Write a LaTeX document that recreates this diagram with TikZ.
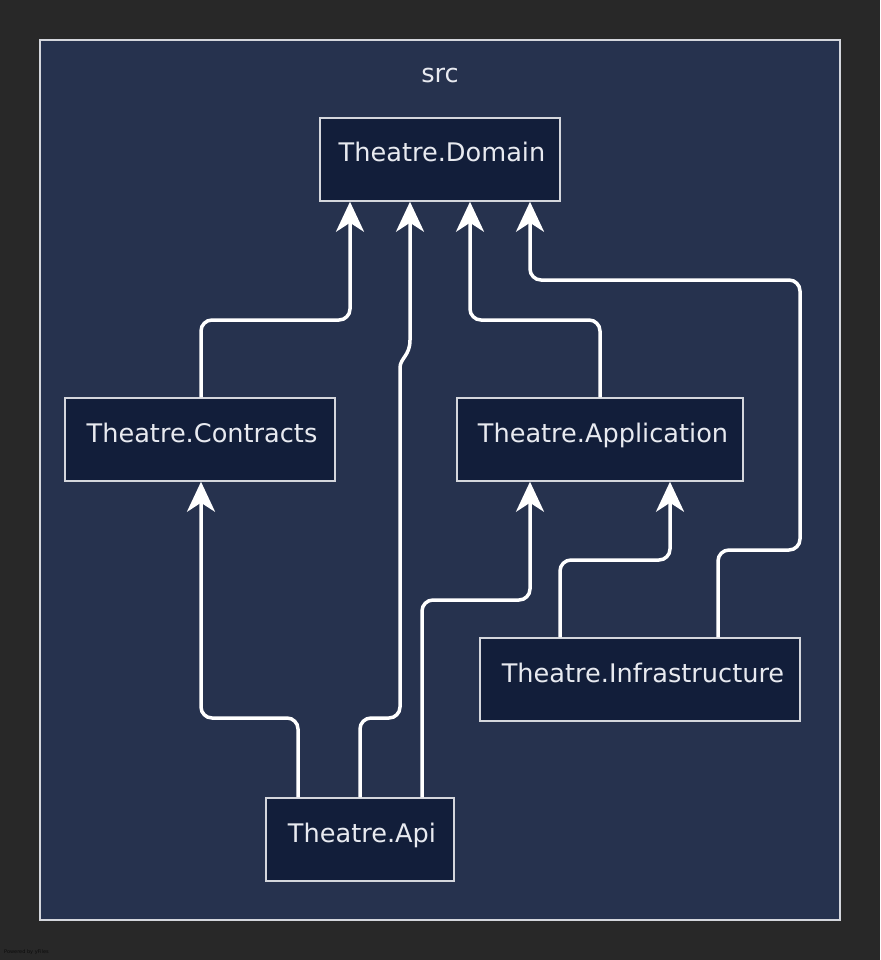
\documentclass[tikz,border=0pt]{standalone}
\usepackage{fontspec}
\setmainfont{DejaVu Sans}
\usetikzlibrary{arrows.meta,calc}
\definecolor{bgc}{HTML}{282828}
\definecolor{grpfill}{HTML}{26324E}
\definecolor{nodefill}{HTML}{121E3A}
\definecolor{bordc}{HTML}{D4D6DC}
\definecolor{txtc}{HTML}{E8EAF0}
\tikzset{
  box/.style={draw=bordc, line width=1.5pt, fill=nodefill, rectangle, minimum height=83pt, inner sep=0pt},
  lbl/.style={text=txtc, font=\fontsize{25.6}{30}\selectfont, anchor=base, inner sep=0pt},
  edge/.style={draw=white, line width=3.5pt, rounded corners=11pt, -{Stealth[length=30pt,width=28pt,inset=9pt]}},
}
\begin{document}
\begin{tikzpicture}[x=1pt,y=-1pt]
\fill[bgc] (0,0) rectangle (880,960);
\useasboundingbox (0,0) rectangle (880,960);
\draw[draw=bordc, line width=2pt, fill=grpfill] (40,40) rectangle (840,920);
\node[lbl] (src) at (440,83) {src};
\node[text=black!70!bgc, font=\fontsize{5}{6}\selectfont, anchor=west, inner sep=0pt] (pw) at (4,952) {Powered by yFiles};

\node[box, minimum width=240pt] (dom) at (440,159.5) {};
\node[box, minimum width=270pt] (con) at (200,439.5) {};
\node[box, minimum width=286pt] (app) at (600,439.5) {};
\node[box, minimum width=320pt] (inf) at (640,679.5) {};
\node[box, minimum width=188pt] (api) at (360,839.5) {};

\node[lbl] (domt) at (442,162) {Theatre.Domain};
\node[lbl] (cont) at (202,442) {Theatre.Contracts};
\node[lbl] (appt) at (603,442) {Theatre.Application};
\node[lbl] (inft) at (643,682) {Theatre.Infrastructure};
\node[lbl] (apit) at (362,842) {Theatre.Api};

% Contracts -> Domain
\draw[edge] ($(con.north)+(1,0)$) -- (201,320) -- (350,320) -- ($(dom.south)+(-90,0)$);
% Application -> Domain
\draw[edge] (app.north) -- (600,320) -- (470,320) -- ($(dom.south)+(30,0)$);
% Infrastructure -> Domain
\draw[edge] ($(inf.north)+(78,0)$) -- (718,550) -- (800,550) -- (800,280) -- (530,280) -- ($(dom.south)+(90,0)$);
% Api -> Domain
\draw[edge] (api.north) -- (360,718) -- (400,718) -- (400,390) [sharp corners] -- (400,368) .. controls (400,358) and (410,356) .. (410,340) -- ($(dom.south)+(-30,0)$);
% Api -> Contracts
\draw[edge] ($(api.north)+(-62,0)$) -- (298,718) -- (201,718) -- ($(con.south)+(1,0)$);
% Api -> Application
\draw[edge] ($(api.north)+(62,0)$) -- (422,600) -- (530,600) -- ($(app.south)+(-70,0)$);
% Infrastructure -> Application
\draw[edge] ($(inf.north)+(-80,0)$) -- (560,560) -- (670,560) -- ($(app.south)+(70,0)$);
\end{tikzpicture}
\end{document}
